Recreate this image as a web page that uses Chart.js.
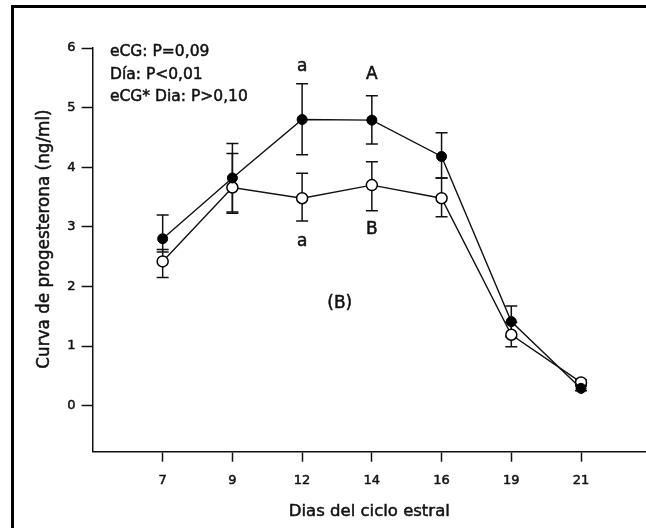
<!DOCTYPE html>
<html>
<head>
<meta charset="utf-8">
<script src="https://cdn.jsdelivr.net/npm/chart.js@4.4.1/dist/chart.umd.min.js"></script>
<style>
  html, body { margin: 0; padding: 0; background: #fff; overflow: hidden; }
  canvas { display: block; }
</style>
</head>
<body>
<canvas id="c" width="646" height="528"></canvas>
<script>
// ---- data ----
const days = ['7', '9', '12', '14', '16', '19', '21'];
const yTicks = [0, 1, 2, 3, 4, 5, 6];

// filled circles (eCG group)
const eCGMean = [2.80, 3.82, 4.80, 4.79, 4.18, 1.41, 0.29];
const eCGHigh = [3.20, 4.40, 5.40, 5.20, 4.58, 1.67, 0.33];
const eCGLow  = [2.58, 3.25, 4.21, 4.39, 3.82, 1.15, 0.25];

// open circles (control group)
const ctrlMean = [2.42, 3.66, 3.48, 3.70, 3.48, 1.19, 0.39];
const ctrlHigh = [2.62, 4.23, 3.90, 4.09, 3.82, 1.40, 0.43];
const ctrlLow  = [2.15, 3.23, 3.10, 3.27, 3.17, 0.99, 0.35];

const statLines = ['eCG: P=0,09', 'Día: P<0,01', 'eCG* Dia: P>0,10'];
const letters = [
  { text: 'a', x: 2, y: 5.68 },
  { text: 'A', x: 3, y: 5.55 },
  { text: 'a', x: 2, y: 2.75 },
  { text: 'B', x: 3, y: 2.95 },
  { text: '(B)', x: 2.54, y: 1.72 }
];

const FONT = '"DejaVu Sans", "Liberation Sans", sans-serif';
const INK = '#111';

function inkText(ctx, t, x, y) {
  ctx.fillText(t, x, y);
  ctx.strokeText(t, x, y);
}

const errorBars = {
  id: 'errorBars',
  beforeDatasetsDraw(chart) {
    const ctx = chart.ctx;
    const xs = chart.scales.x, ys = chart.scales.y;
    const sets = [[eCGHigh, eCGLow], [ctrlHigh, ctrlLow]];
    ctx.save();
    ctx.strokeStyle = INK;
    ctx.lineWidth = 1.5;
    sets.forEach(([hi, lo]) => {
      hi.forEach((h, i) => {
        const x = xs.getPixelForValue(i);
        const yt = ys.getPixelForValue(h);
        const yb = ys.getPixelForValue(lo[i]);
        ctx.beginPath();
        ctx.moveTo(x, yt); ctx.lineTo(x, yb);
        ctx.moveTo(x - 6, yt); ctx.lineTo(x + 6, yt);
        ctx.moveTo(x - 6, yb); ctx.lineTo(x + 6, yb);
        ctx.stroke();
      });
    });
    ctx.restore();
  }
};

const decor = {
  id: 'decor',
  beforeDraw(chart) {
    const ctx = chart.ctx;
    ctx.save();
    ctx.fillStyle = '#fff';
    ctx.fillRect(0, 0, chart.width, chart.height);
    ctx.fillStyle = '#000';
    ctx.fillRect(11, 5, 3, chart.height - 5);
    ctx.fillRect(11, 5, chart.width - 11, 3);
    ctx.restore();
  },
  afterDraw(chart) {
    const ctx = chart.ctx;
    const xs = chart.scales.x, ys = chart.scales.y;
    const ca = chart.chartArea;
    ctx.save();
    ctx.fillStyle = INK;
    ctx.strokeStyle = INK;
    ctx.lineWidth = 0.5;
    // stats text
    ctx.font = '15.5px ' + FONT;
    ctx.textAlign = 'left';
    ctx.textBaseline = 'middle';
    statLines.forEach((t, i) => inkText(ctx, t, 110, 52 + i * 22.5));
    // significance letters
    ctx.font = '17px ' + FONT;
    ctx.textAlign = 'center';
    letters.forEach(l => inkText(ctx, l.text, xs.getPixelForValue(l.x), ys.getPixelForValue(l.y)));
    // axis titles
    ctx.font = '16.5px ' + FONT;
    inkText(ctx, 'Dias del ciclo estral', (ca.left + ca.right) / 2, 512);
    ctx.translate(45, 239);
    ctx.rotate(-Math.PI / 2);
    ctx.font = '16.8px ' + FONT;
    inkText(ctx, 'Curva de progesterona (ng/ml)', 0, 0);
    ctx.restore();
  }
};

new Chart(document.getElementById('c'), {
  type: 'line',
  data: {
    datasets: [
      {
        label: 'eCG',
        data: eCGMean.map((v, i) => ({ x: i, y: v })),
        borderColor: INK,
        borderWidth: 1.4,
        pointRadius: 5,
        pointBackgroundColor: '#000',
        pointBorderColor: '#000',
        pointBorderWidth: 1,
        tension: 0
      },
      {
        label: 'Control',
        data: ctrlMean.map((v, i) => ({ x: i, y: v })),
        borderColor: INK,
        borderWidth: 1.4,
        pointRadius: 5.5,
        pointBackgroundColor: '#fff',
        pointBorderColor: '#000',
        pointBorderWidth: 1.5,
        tension: 0
      }
    ]
  },
  options: {
    responsive: false,
    animation: false,
    devicePixelRatio: 1,
    layout: { autoPadding: false, padding: { top: 48, left: 0, right: 0, bottom: 0 } },
    plugins: { legend: { display: false }, tooltip: { enabled: false } },
    scales: {
      x: {
        type: 'linear',
        min: -1.005,
        max: 6.932,
        afterBuildTicks: s => { s.ticks = days.map((d, i) => ({ value: i })); },
        afterFit: s => { s.height = 76.3; },
        ticks: {
          callback: v => days[v],
          autoSkip: false,
          maxRotation: 0,
          padding: 11,
          color: INK,
          textStrokeColor: INK,
          textStrokeWidth: 0.5,
          font: { family: FONT, size: 13 }
        },
        grid: { display: true, drawOnChartArea: false, drawTicks: true, tickLength: 10, tickColor: INK, tickWidth: 1.5 },
        border: { display: true, color: INK, width: 1.5 }
      },
      y: {
        type: 'linear',
        min: -0.772,
        max: 6,
        afterBuildTicks: s => { s.ticks = yTicks.map(v => ({ value: v })); },
        afterFit: s => { s.width = 92.6; },
        ticks: {
          padding: 6,
          color: INK,
          textStrokeColor: INK,
          textStrokeWidth: 0.5,
          font: { family: FONT, size: 13 }
        },
        grid: { display: true, drawOnChartArea: false, drawTicks: true, tickLength: 11, tickColor: INK, tickWidth: 1.5 },
        border: { display: true, color: INK, width: 1.5 }
      }
    }
  },
  plugins: [decor, errorBars]
});
</script>
</body>
</html>
